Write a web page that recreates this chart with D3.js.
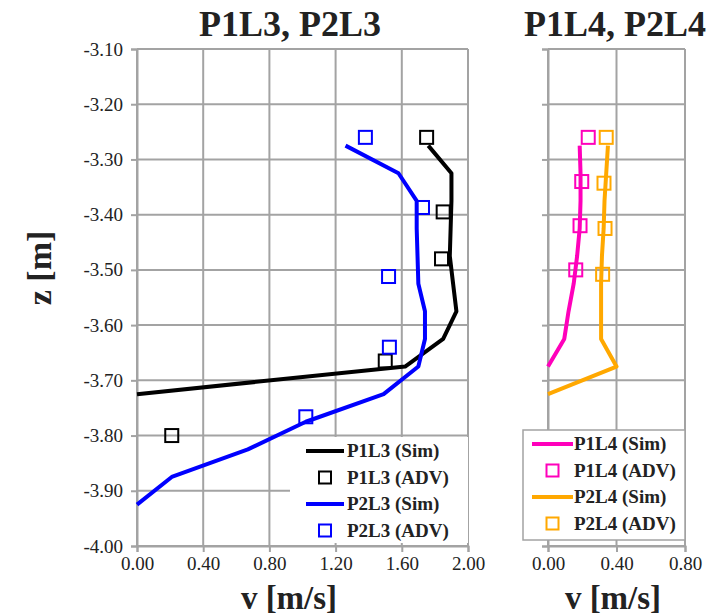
<!DOCTYPE html>
<html>
<head>
<meta charset="utf-8">
<script src="https://cdn.jsdelivr.net/npm/d3@7"></script>
<style>
  body { margin: 0; background: #fff; }
  text { font-family: "Liberation Serif", "Times New Roman", serif; fill: #222; }
</style>
</head>
<body>
<svg id="chart" width="717" height="616"></svg>
<script>
// tick values
const zTicks = [-4.0, -3.9, -3.8, -3.7, -3.6, -3.5, -3.4, -3.3, -3.2, -3.1];
const vTicksL3 = [0, 0.4, 0.8, 1.2, 1.6, 2.0];
const vTicksL4 = [0, 0.4, 0.8];

// simulated profiles
const zSim = [-3.275, -3.325, -3.375, -3.425, -3.475, -3.525, -3.575, -3.625, -3.675, -3.725, -3.775, -3.825, -3.875, -3.925];
const p1l3Sim = [1.76, 1.90, 1.90, 1.895, 1.89, 1.91, 1.93, 1.85, 1.62, 0.00];
const p2l3Sim = [1.26, 1.58, 1.69, 1.69, 1.695, 1.70, 1.74, 1.74, 1.70, 1.49, 1.02, 0.67, 0.21, 0.00];
const p1l4Sim = [0.185, 0.19, 0.19, 0.185, 0.17, 0.15, 0.12, 0.095, 0.00];
const p2l4Sim = [0.35, 0.34, 0.33, 0.325, 0.315, 0.31, 0.31, 0.31, 0.40, 0.00];

// measured (ADV)
const p1l3AdvZ = [-3.26, -3.395, -3.48, -3.665, -3.80];
const p1l3AdvV = [1.75, 1.85, 1.84, 1.50, 0.21];
const p2l3AdvZ = [-3.26, -3.387, -3.512, -3.64, -3.766];
const p2l3AdvV = [1.38, 1.725, 1.52, 1.525, 1.02];
const p1l4AdvZ = [-3.26, -3.34, -3.42, -3.50];
const p1l4AdvV = [0.235, 0.197, 0.187, 0.162];
const p2l4AdvZ = [-3.26, -3.343, -3.425, -3.508];
const p2l4AdvV = [0.34, 0.327, 0.333, 0.319];

const colors = { p1l3: "#000000", p2l3: "#0000ff", p1l4: "#ff00bb", p2l4: "#ffa800" };
const gridColor = "#a3a3a3";

const svg = d3.select("#chart");
const y = d3.scaleLinear().domain([-4.0, -3.1]).range([546, 49]);
const fmt = d => d.toFixed(2);

function drawPanel(x, vTicks, showZLabels) {
    const g = svg.append("g");
    const [x0, x1] = x.range();

    g.selectAll(".hgrid").data(zTicks).enter().append("line")
        .attr("x1", x0).attr("x2", x1)
        .attr("y1", d => y(d)).attr("y2", d => y(d))
        .attr("stroke", gridColor).attr("stroke-width", 2);

    g.selectAll(".vgrid").data(vTicks).enter().append("line")
        .attr("x1", d => x(d)).attr("x2", d => x(d))
        .attr("y1", y(-3.1)).attr("y2", y(-4.0))
        .attr("stroke", gridColor).attr("stroke-width", 2);

    const yAxis = g.append("g")
        .attr("transform", `translate(${x0},0)`)
        .call(d3.axisLeft(y).tickValues(zTicks).tickSize(6).tickPadding(8)
            .tickFormat(showZLabels ? fmt : () => ""));
    const xAxis = g.append("g")
        .attr("transform", `translate(0,${y(-4.0)})`)
        .call(d3.axisBottom(x).tickValues(vTicks).tickSize(6).tickPadding(5).tickFormat(fmt));

    [yAxis, xAxis].forEach(a => {
        a.attr("font-family", "Liberation Serif").attr("font-size", 19);
        a.select(".domain").attr("stroke", gridColor).attr("stroke-width", 2);
        a.selectAll(".tick line").attr("stroke", gridColor).attr("stroke-width", 2);
        a.selectAll(".tick text")
            .attr("fill", "#2a2a2a")
            .style("font-size", "19px");
    });
    return g;
}

function simLine(g, x, zs, vs, color) {
    const pts = vs.map((v, i) => [v, zs[i]]);
    g.append("path")
        .datum(pts)
        .attr("fill", "none")
        .attr("stroke", color)
        .attr("stroke-width", 4)
        .attr("stroke-linejoin", "round")
        .attr("d", d3.line().x(d => x(d[0])).y(d => y(d[1])));
}

function advPoints(g, x, zs, vs, color) {
    g.selectAll(null).data(vs).enter().append("rect")
        .attr("x", (d, i) => x(d) - 6.5)
        .attr("y", (d, i) => y(zs[i]) - 6.5)
        .attr("width", 13).attr("height", 13)
        .attr("fill", "none")
        .attr("stroke", color)
        .attr("stroke-width", 2);
}

function legend(g, box, items, lineX, textX) {
    g.append("rect")
        .attr("x", box[0]).attr("y", box[1])
        .attr("width", box[2]).attr("height", box[3])
        .attr("fill", "#fff")
        .attr("stroke", box[4] ? gridColor : "none")
        .attr("stroke-width", 1.5);
    items.forEach((it, i) => {
        const yy = box[1] + 14 + i * 26.5;
        if (it.type === "line") {
            g.append("line")
                .attr("x1", lineX[0]).attr("x2", lineX[1])
                .attr("y1", yy).attr("y2", yy)
                .attr("stroke", it.color).attr("stroke-width", 4);
        } else {
            g.append("rect")
                .attr("x", (lineX[0] + lineX[1]) / 2 - 6).attr("y", yy - 6)
                .attr("width", 12).attr("height", 12)
                .attr("fill", "none").attr("stroke", it.color).attr("stroke-width", 2);
        }
        g.append("text")
            .attr("x", textX).attr("y", yy + 6)
            .style("font-size", "19px").style("font-weight", "bold")
            .text(it.label);
    });
}

// left panel
const xL = d3.scaleLinear().domain([0, 2]).range([137, 468]);
const gL = drawPanel(xL, vTicksL3, true);
legend(gL, [290, 437, 178, 106, false], [
    { type: "line", color: colors.p1l3, label: "P1L3 (Sim)" },
    { type: "sq", color: colors.p1l3, label: "P1L3 (ADV)" },
    { type: "line", color: colors.p2l3, label: "P2L3 (Sim)" },
    { type: "sq", color: colors.p2l3, label: "P2L3 (ADV)" }
], [306, 344], 347);
simLine(gL, xL, zSim, p1l3Sim, colors.p1l3);
simLine(gL, xL, zSim, p2l3Sim, colors.p2l3);
advPoints(gL, xL, p1l3AdvZ, p1l3AdvV, colors.p1l3);
advPoints(gL, xL, p2l3AdvZ, p2l3AdvV, colors.p2l3);

// right panel
const xR = d3.scaleLinear().domain([0, 0.8]).range([548, 685]);
const gR = drawPanel(xR, vTicksL4, false);
legend(gR, [523, 430, 162, 110, true], [
    { type: "line", color: colors.p1l4, label: "P1L4 (Sim)" },
    { type: "sq", color: colors.p1l4, label: "P1L4 (ADV)" },
    { type: "line", color: colors.p2l4, label: "P2L4 (Sim)" },
    { type: "sq", color: colors.p2l4, label: "P2L4 (ADV)" }
], [532, 573], 574);
simLine(gR, xR, zSim, p1l4Sim, colors.p1l4);
simLine(gR, xR, zSim, p2l4Sim, colors.p2l4);
advPoints(gR, xR, p1l4AdvZ, p1l4AdvV, colors.p1l4);
advPoints(gR, xR, p2l4AdvZ, p2l4AdvV, colors.p2l4);

// titles and axis labels
svg.append("text").attr("x", 290).attr("y", 36).attr("text-anchor", "middle")
    .style("font-size", "36px").style("font-weight", "bold").text("P1L3, P2L3");
svg.append("text").attr("x", 615).attr("y", 36).attr("text-anchor", "middle")
    .style("font-size", "36px").style("font-weight", "bold").text("P1L4, P2L4");
svg.append("text").attr("x", 289).attr("y", 608.5).attr("text-anchor", "middle")
    .style("font-size", "33px").style("font-weight", "bold").text("v [m/s]");
svg.append("text").attr("x", 613).attr("y", 608.5).attr("text-anchor", "middle")
    .style("font-size", "33px").style("font-weight", "bold").text("v [m/s]");
svg.append("text").attr("transform", "translate(51,268) rotate(-90)").attr("text-anchor", "middle")
    .style("font-size", "34px").style("font-weight", "bold").text("z [m]");
</script>
</body>
</html>
